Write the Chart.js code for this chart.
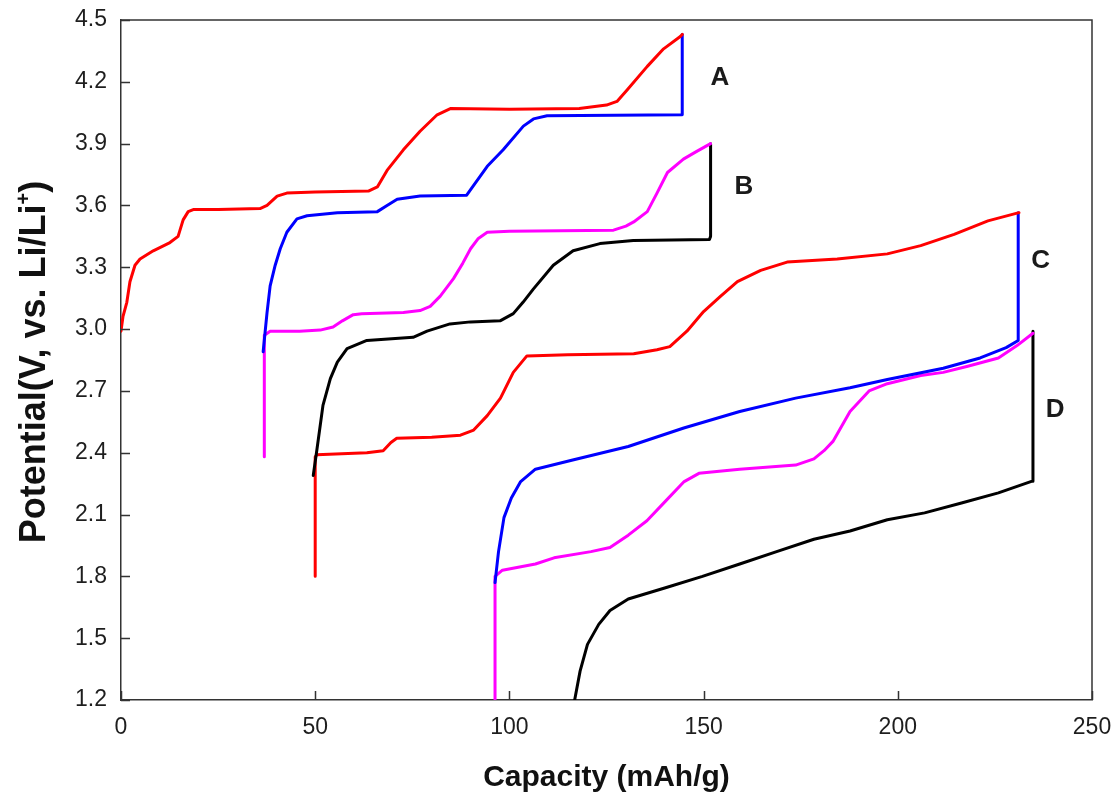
<!DOCTYPE html>
<html>
<head>
<meta charset="utf-8">
<script src="https://cdn.jsdelivr.net/npm/chart.js@4/dist/chart.umd.min.js"></script>
<style>
html,body{margin:0;padding:0;background:#fff;}
#wrap{width:1115px;height:798px;position:relative;}
</style>
</head>
<body>
<div id="wrap"><canvas id="c"></canvas></div>
<script>
// ---- axis ticks ----
const xTicks = [0, 50, 100, 150, 200, 250];
const yTicks = [1.2, 1.5, 1.8, 2.1, 2.4, 2.7, 3.0, 3.3, 3.6, 3.9, 4.2, 4.5];

// ---- curve labels ----
const curveLabels = ['A', 'B', 'C', 'D'];
const curveLabelPos = [[154.2, 4.22], [160.4, 3.69], [236.8, 3.33], [240.5, 2.61]];

// ---- A: charge (red) ----
const aCharge = [[0,2.99],[0.5,3.06],[1.5,3.13],[2.3,3.23],[3.6,3.31],[4.9,3.34],[8.3,3.38],[12.6,3.42],[14.7,3.45],[16,3.53],[17.3,3.57],[18.6,3.58],[25,3.58],[35.8,3.585],[37.6,3.6],[40.2,3.645],[42.7,3.66],[50,3.665],[63.7,3.67],[66,3.69],[68.5,3.77],[72.7,3.87],[77,3.96],[81.4,4.04],[84.8,4.07],[100,4.067],[118,4.07],[125,4.087],[127.7,4.105],[130.3,4.16],[135.5,4.275],[139.7,4.36],[144,4.42],[144.5,4.43]];
// ---- A: discharge (blue) ----
const aDischarge = [[36.6,2.89],[37.6,3.08],[38.4,3.21],[39.7,3.31],[41,3.39],[42.7,3.47],[45.3,3.535],[47.9,3.55],[55.7,3.565],[66,3.57],[68.5,3.6],[71.1,3.63],[77,3.646],[89,3.65],[90.7,3.695],[94.3,3.79],[98.4,3.87],[103.6,3.985],[106.2,4.02],[109.7,4.035],[144.5,4.04],[144.5,4.43]];
// ---- B: charge (magenta) ----
const bCharge = [[36.9,2.38],[36.9,2.97],[38.4,2.99],[46,2.99],[51.3,2.995],[54.6,3.01],[57,3.04],[59.8,3.07],[62,3.075],[72.7,3.08],[77,3.09],[79.6,3.11],[82.2,3.16],[85.6,3.245],[88,3.32],[90,3.39],[92,3.44],[94.3,3.47],[100,3.475],[126.8,3.48],[130,3.5],[132,3.52],[135.5,3.57],[138,3.66],[140.7,3.76],[144.8,3.825],[148,3.86],[151.8,3.9]];
// ---- B: discharge (black) ----
const bDischarge = [[49.5,2.29],[50.4,2.41],[52,2.63],[53.9,2.76],[55.7,2.84],[58.2,2.905],[63.3,2.945],[75.2,2.96],[78.8,2.99],[84.7,3.025],[90,3.035],[97.6,3.04],[101,3.075],[103.5,3.13],[106.2,3.195],[111.3,3.31],[116.4,3.38],[123.3,3.415],[131.9,3.43],[151.5,3.435],[151.8,3.45],[151.8,3.9]];
// ---- C: charge (red) ----
const cCharge = [[50,1.8],[50,2.38],[50.4,2.39],[63.3,2.4],[67.5,2.41],[69.5,2.45],[71,2.47],[80,2.475],[87.4,2.485],[90.8,2.51],[94.3,2.58],[97.7,2.665],[101,2.79],[104.5,2.87],[115,2.875],[132,2.88],[138,2.9],[141.3,2.915],[145.7,2.99],[150,3.085],[154.4,3.16],[158.7,3.23],[164.7,3.285],[171.5,3.325],[184.4,3.34],[197.3,3.365],[205.9,3.405],[214.5,3.46],[223.2,3.525],[231.2,3.565]];
// ---- C: discharge (blue) ----
const cDischarge = [[96.3,1.77],[97.2,1.92],[98.6,2.085],[100.5,2.18],[102.9,2.26],[106.7,2.32],[116.3,2.365],[130.6,2.43],[144.9,2.52],[159.3,2.6],[173.7,2.665],[187.7,2.715],[197.3,2.755],[211.7,2.81],[221.2,2.86],[227.9,2.91],[231,2.945],[231,3.565]];
// ---- D: charge (magenta) ----
const dCharge = [[96.3,1.2],[96.3,1.8],[98.2,1.83],[106.7,1.86],[111.5,1.89],[121,1.92],[125.9,1.94],[130.6,2.0],[135.4,2.07],[140.2,2.165],[145,2.26],[148.8,2.3],[159.3,2.32],[173.7,2.34],[178.4,2.37],[181,2.41],[183.3,2.455],[187.7,2.6],[192.6,2.7],[197.3,2.735],[205.9,2.775],[211.7,2.79],[218,2.82],[225.9,2.86],[230.7,2.92],[234.8,2.98]];
// ---- D: discharge (black) ----
const dDischarge = [[116.8,1.2],[118.2,1.34],[120.1,1.47],[123,1.567],[125.9,1.634],[130.6,1.69],[140.2,1.745],[149.7,1.8],[159.3,1.86],[168.8,1.92],[178.4,1.98],[187.7,2.02],[197.3,2.075],[206.9,2.108],[216.4,2.156],[225.9,2.205],[234.6,2.262],[234.8,2.99]];

const toXY = arr => arr.map(p => ({x: p[0], y: p[1]}));
function ds(arr, color, w) {
  return {data: toXY(arr), borderColor: color, backgroundColor: color, borderWidth: w,
          showLine: true, pointRadius: 0, tension: 0, fill: false,
          borderJoinStyle: 'round', borderCapStyle: 'round'};
}

const AXIS = '#333333';
const TXT = '#1e1e1e';

function zeroPad(s) { s.paddingLeft = 0; s.paddingRight = 0; s.paddingTop = 0; s.paddingBottom = 0; }

const framePlugin = {
  id: 'frame',
  afterDatasetsDraw(chart) {
    const {ctx, chartArea: a, scales: {x, y}} = chart;
    ctx.save();
    ctx.strokeStyle = AXIS;
    ctx.lineWidth = 1.5;
    ctx.beginPath();
    ctx.moveTo(a.left, a.top); ctx.lineTo(a.right, a.top); ctx.lineTo(a.right, a.bottom);
    ctx.stroke();
    ctx.lineWidth = 1.5;
    ctx.beginPath();
    y.ticks.forEach(t => {
      const py = Math.round(y.getPixelForValue(t.value)) + 0.5;
      ctx.moveTo(a.left, py); ctx.lineTo(a.left + 9, py);
    });
    x.ticks.forEach(t => {
      const px = Math.round(x.getPixelForValue(t.value)) + 0.5;
      ctx.moveTo(px, a.bottom); ctx.lineTo(px, a.bottom - 9);
    });
    ctx.stroke();

    // curve labels
    ctx.fillStyle = '#1a1a1a';
    ctx.font = 'bold 26px "Liberation Sans", Arial, sans-serif';
    ctx.textAlign = 'center';
    ctx.textBaseline = 'middle';
    curveLabels.forEach((l, i) => {
      ctx.fillText(l, x.getPixelForValue(curveLabelPos[i][0]), y.getPixelForValue(curveLabelPos[i][1]));
    });

    // x title
    ctx.fillStyle = '#111';
    ctx.font = 'bold 30px "Liberation Sans", Arial, sans-serif';
    ctx.textBaseline = 'alphabetic';
    ctx.fillText('Capacity (mAh/g)', (a.left + a.right) / 2, 786);

    // y title with superscript
    const mainFont = 'bold 36px "Liberation Sans", Arial, sans-serif';
    const supFont = 'bold 20px "Liberation Sans", Arial, sans-serif';
    const p1 = 'Potential(V, vs. Li/Li', p2 = '+', p3 = ')';
    ctx.font = mainFont; const w1 = ctx.measureText(p1).width, w3 = ctx.measureText(p3).width;
    ctx.font = supFont; const w2 = ctx.measureText(p2).width;
    const total = w1 + w2 + w3;
    ctx.translate(45, 362);
    ctx.rotate(-Math.PI / 2);
    ctx.textAlign = 'left';
    let sx = -total / 2;
    ctx.font = mainFont; ctx.fillText(p1, sx, 0); sx += w1;
    ctx.font = supFont; ctx.fillText(p2, sx, -15); sx += w2;
    ctx.font = mainFont; ctx.fillText(p3, sx, 0);
    ctx.restore();
  }
};

new Chart(document.getElementById('c'), {
  type: 'scatter',
  data: {
    datasets: [
      ds(aCharge, '#ff0000', 3),
      ds(aDischarge, '#0000ff', 3),
      ds(bCharge, '#ff00ff', 3),
      ds(bDischarge, '#000000', 3),
      ds(cCharge, '#ff0000', 3),
      ds(cDischarge, '#0000ff', 3),
      ds(dCharge, '#ff00ff', 3),
      ds(dDischarge, '#000000', 3)
    ]
  },
  options: {
    responsive: true,
    maintainAspectRatio: false,
    animation: false,
    events: [],
    layout: {padding: {top: 20, right: 23, left: 0, bottom: 0}},
    plugins: {legend: {display: false}, tooltip: {enabled: false}},
    scales: {
      x: {
        type: 'linear', min: 0, max: 250,
        grid: {display: false, drawTicks: false},
        border: {display: true, color: AXIS, width: 1.5},
        afterBuildTicks: s => { s.ticks = xTicks.map(v => ({value: v})); },
        afterFit: s => { s.height = 98; zeroPad(s); },
        ticks: {color: TXT, padding: 14, maxRotation: 0, autoSkip: false,
                font: {family: '"Liberation Sans", Arial, sans-serif', size: 23},
                callback: v => String(v)}
      },
      y: {
        type: 'linear', min: 1.2, max: 4.5,
        grid: {display: false, drawTicks: false},
        border: {display: true, color: AXIS, width: 1.5},
        afterBuildTicks: s => { s.ticks = yTicks.map(v => ({value: v})); },
        afterFit: s => { s.width = 121; zeroPad(s); },
        ticks: {color: TXT, padding: 14, autoSkip: false,
                font: {family: '"Liberation Sans", Arial, sans-serif', size: 23},
                callback: v => Number(v).toFixed(1)}
      }
    }
  },
  plugins: [framePlugin]
});
</script>
</body>
</html>
